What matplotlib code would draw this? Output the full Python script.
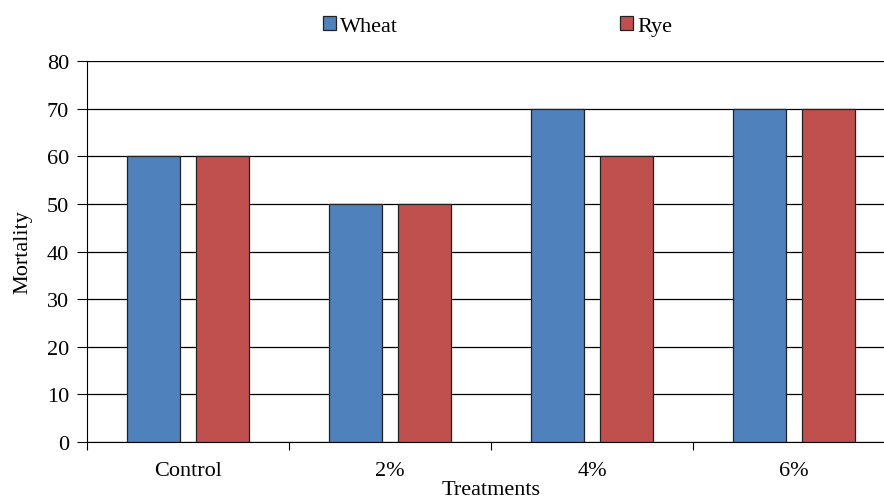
import matplotlib.pyplot as plt
import numpy as np

treatments = ["Control", "2%", "4%", "6%"]
wheat = [60, 50, 70, 70]
rye = [60, 50, 60, 70]

plt.rcParams["font.family"] = ["Liberation Serif", "DejaVu Serif"]
plt.rcParams["font.size"] = 16

fig = plt.figure(figsize=(8.84, 5.02), dpi=100)
ax = fig.add_axes([87 / 884, 59 / 502, 808 / 884, 381 / 502])

x = np.arange(len(treatments))
w = 0.265
ax.bar(x - 0.17, wheat, w, color="#4F81BD", edgecolor="#222222", linewidth=0.9, label="Wheat", zorder=3)
ax.bar(x + 0.17, rye, w, color="#C0504D", edgecolor="#222222", linewidth=0.9, label="Rye", zorder=3)

ax.set_xlim(-0.5, len(treatments) - 0.5)
ax.set_ylim(0, 80)
ax.set_yticks(range(0, 81, 10))
ax.yaxis.grid(True, color="black", linewidth=0.9, zorder=0)
ax.set_axisbelow(True)

ax.set_xticks(np.arange(-0.5, len(treatments), 1))
ax.set_xticklabels([])
ax.set_xticks(x, minor=True)
ax.set_xticklabels(treatments, minor=True)
ax.tick_params(axis="x", which="minor", length=0, pad=14)
ax.tick_params(axis="x", which="major", length=6, direction="out", color="black")
ax.tick_params(axis="y", length=7, direction="out", pad=6)

for s in ["top", "right"]:
    ax.spines[s].set_visible(False)
ax.spines["left"].set_color("black")
ax.spines["bottom"].set_color("black")

ax.set_ylabel("Mortality", labelpad=10)
ax.set_xlabel("Treatments", labelpad=0)

fig.legend(loc="upper center", bbox_to_anchor=(0.563, 1.005), ncol=2, frameon=False,
           handlelength=0.55, handleheight=0.55, handletextpad=0.2, columnspacing=10.0)

fig.savefig("out.png", dpi=100)
